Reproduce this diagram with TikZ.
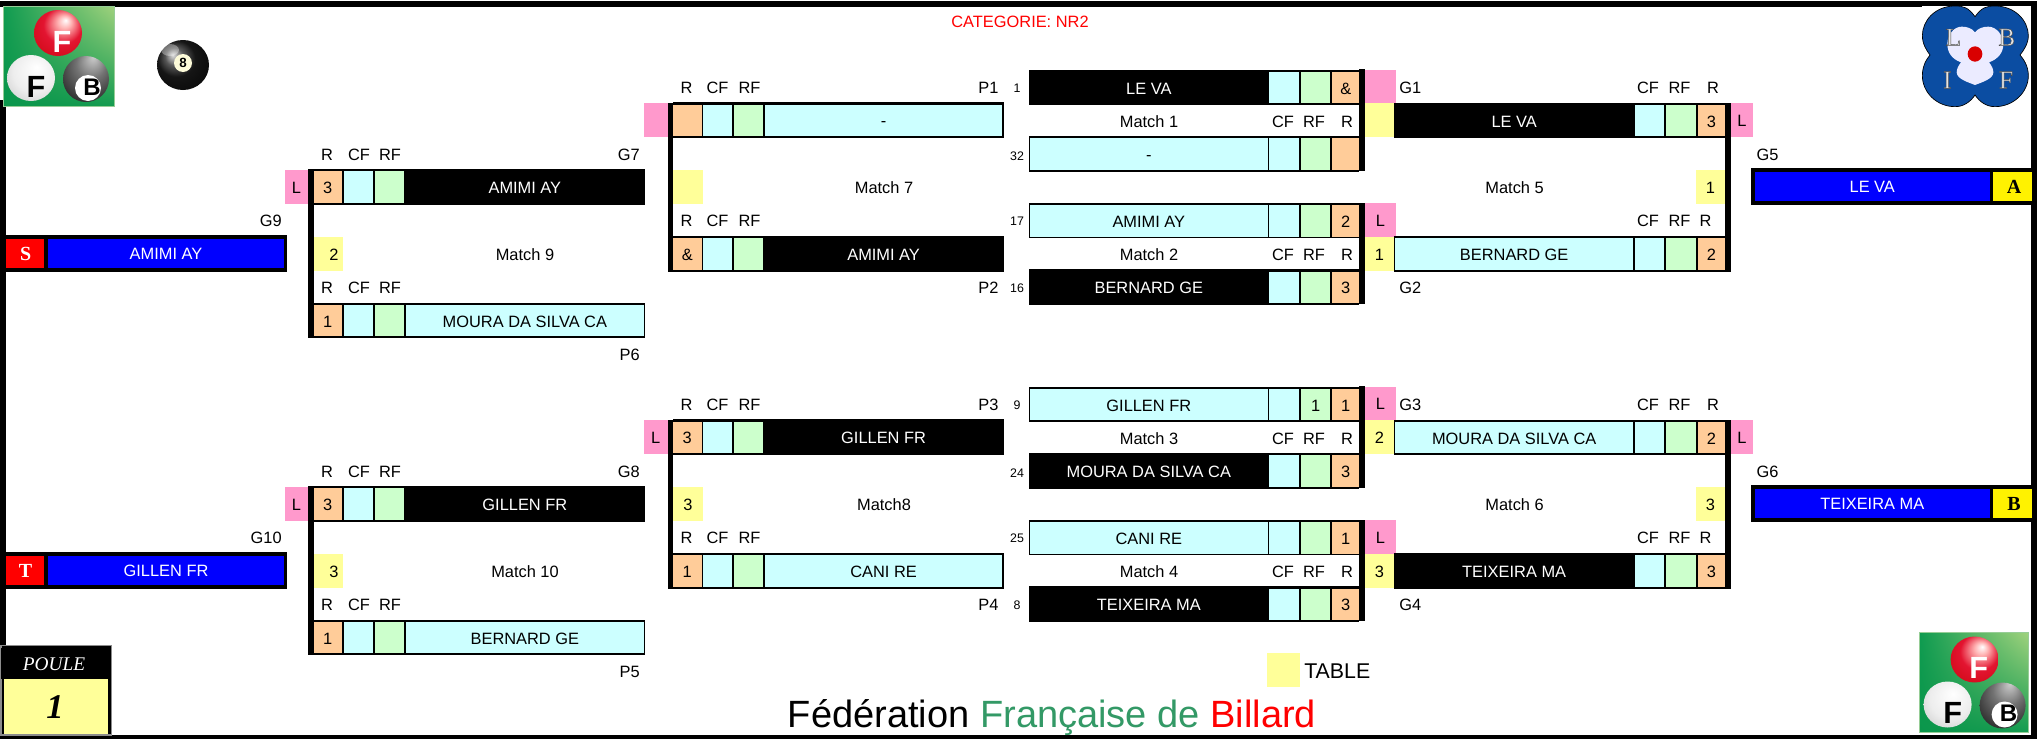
\documentclass[tikz,border=0pt]{standalone}
\usepackage{fontspec}
\usetikzlibrary{shadings}
\setmainfont{Liberation Sans}
\newfontfamily\serifF{Liberation Serif}
\definecolor{cpink}{HTML}{FF99CC}
\definecolor{corange}{HTML}{FFCC99}
\definecolor{ccyan}{HTML}{CCFFFF}
\definecolor{cgreen}{HTML}{CCFFCC}
\definecolor{cyell}{HTML}{FFFF99}
\definecolor{fgreen}{HTML}{339966}
\definecolor{lblue}{HTML}{0B4DA2}
\definecolor{lgA}{RGB}{10,150,75}
\definecolor{lgB}{RGB}{15,155,80}
\definecolor{lgC}{RGB}{20,155,80}
\definecolor{lgD}{RGB}{160,210,125}
\definecolor{lgE}{RGB}{150,205,150}
\pgfdeclareradialshading{redball}{\pgfpoint{8bp}{14bp}}{color(0bp)=(white);color(7bp)=(white!70!red);color(20bp)=(red!88!blue!92!white);color(50bp)=(red!75!black)}
\pgfdeclareradialshading{whiteball}{\pgfpoint{6bp}{12bp}}{color(0bp)=(white);color(22bp)=(black!7);color(40bp)=(black!22);color(50bp)=(black!40)}
\pgfdeclareradialshading{blackball}{\pgfpoint{8bp}{24bp}}{color(0bp)=(black!20);color(16bp)=(black!55);color(34bp)=(black!82);color(50bp)=(black!95)}
\tikzset{
  txt/.style={inner sep=0pt,yshift=-.4pt,text height=8.9pt,text depth=0pt,font=\fontsize{12.3}{14}\selectfont},
  seedt/.style={inner sep=0pt,yshift=-.4pt,text height=6.7pt,text depth=0pt,font=\fontsize{9.3}{11}\selectfont},
  tagt/.style={inner sep=0pt,text height=9pt,text depth=0pt,font=\serifF\bfseries\fontsize{15}{16}\selectfont},
  logot/.style={inner sep=0pt,text height=16.5pt,text depth=0pt,font=\bfseries\fontsize{23}{24}\selectfont},
  lbift/.style={inner sep=0pt,font=\serifF\fontsize{19}{20}\selectfont},
}
\newcommand\outl[1]{\special{pdf:code 2 Tr .35 w .3 G .9 g}#1\special{pdf:code 0 Tr 0 G 0 g}}
% id x1 y1 x2 y2 fill textcolor text
\newcommand\cell[8]{\path[fill=#6] (#2,#3) rectangle (#4,#5) node[midway,txt,text=#7] (#1) {#8};}
\newcommand\lab[5]{\node[txt,anchor=#4] (#1) at (#2,#3) {#5};}
\newcommand\seed[4]{\node[seedt] (#1) at (#2,#3) {#4};}
% left-type row: id top namefill namecolour score name
\newcommand\lrow[6]{%
  \fill[black] (\cA,#2-1) rectangle (\cH,#2+34.5);
  \cell{#1r}{\cA}{#2+1.3}{\cB}{#2+32.8}{corange}{black}{#5}
  \cell{#1c}{\cC}{#2+1.3}{\cD}{#2+32.8}{ccyan}{black}{}
  \cell{#1f}{\cE}{#2+1.3}{\cF}{#2+32.8}{cgreen}{black}{}
  \cell{#1n}{\cG}{#2+1.3}{\cH-1.3}{#2+32.8}{#3}{#4}{#6}
}
% right-type row: id top namefill namecolour rf score name
\newcommand\rrow[7]{%
  \fill[black] (\rA,#2-1) rectangle (\rH,#2+34.5);
  \cell{#1n}{\rA+1.3}{#2+1.3}{\rB}{#2+32.8}{#3}{#4}{#7}
  \cell{#1c}{\rC}{#2+1.3}{\rD}{#2+32.8}{ccyan}{black}{}
  \cell{#1f}{\rE}{#2+1.3}{\rF}{#2+32.8}{cgreen}{black}{#5}
  \cell{#1r}{\rG}{#2+1.3}{\rH}{#2+32.8}{corange}{black}{#6}
}
% left-type header R CF RF at given y
\newcommand\lhead[2]{\lab{#1a}{\hA}{#2}{center}{R}\lab{#1b}{\hB}{#2}{center}{CF}\lab{#1c}{\hC}{#2}{center}{RF}}
\newcommand\setleftA{\def\cA{313.5}\def\cB{342}\def\cC{344}\def\cD{373}\def\cE{375}\def\cF{404}\def\cG{406}\def\cH{645}\def\hA{327}\def\hB{359}\def\hC{390}}
\newcommand\setleftB{\def\cA{673}\def\cB{701.5}\def\cC{703.3}\def\cD{732}\def\cE{734}\def\cF{763}\def\cG{765}\def\cH{1003.5}\def\hA{686.5}\def\hB{717.5}\def\hC{749.5}}
\newcommand\setrightA{\def\rA{1028.8}\def\rB{1267.5}\def\rC{1269.3}\def\rD{1299.2}\def\rE{1301.2}\def\rF{1330.2}\def\rG{1332.2}\def\rH{1359.3}}
\newcommand\setrightB{\def\rA{1394}\def\rB{1633}\def\rC{1635}\def\rD{1664.4}\def\rE{1666}\def\rF{1696}\def\rG{1697.8}\def\rH{1725}}
% FFB logo at top-left corner
\newcommand\ffblogo[3]{%
\begin{scope}[shift={(#2,#3)}]
  \shade[lower left=lgA,upper left=lgB,lower right=lgC,upper right=lgD] (0,0) rectangle (#1,100);
  \draw[color=lgE,line width=.6pt] (0,0) rectangle (#1,100);
  \shade[shading=redball] (55,27) ellipse (24 and 23);
  \shade[shading=whiteball] (28,72) ellipse (24 and 23);
  \shade[shading=blackball] (83,73) ellipse (23 and 23);
  \fill[white] (85,82) circle (13);
  \node[logot,text=white] (#1fa) at (59,35) {F};
  \node[logot] (#1fb) at (33,80) {F};
  \node[logot,text height=12.5pt,font=\bfseries\fontsize{18}{20}\selectfont] (#1bb) at (89,81) {B};
\end{scope}}
\begin{document}
\begin{tikzpicture}[x=.75pt,y=-.75pt]
\useasboundingbox (0,0) rectangle (2037,739);
\fill[white] (0,0) rectangle (2037,739);
% frame
\fill[black] (0,1.3) rectangle (2037,7);
\fill[black] (0,100) rectangle (6.3,739);
\fill[black] (2031.4,1.3) rectangle (2037,739);
\fill[black] (0,735) rectangle (2037,739);
% logos
\ffblogo{111}{3}{6}
\ffblogo{108.5}{1919.6}{632.5}
% eight ball
\shade[ball color=black!88!white] (183,65) ellipse (26 and 25);
\fill[white,opacity=.35] (170,50) ellipse (9 and 6);
\fill[black!5!yellow!15!white] (183,63) circle (9);
\node[inner sep=0pt,font=\bfseries\fontsize{10}{11}\selectfont] (eight) at (183,63) {8};
% LBIF logo
\fill[white] (1922,6) rectangle (2031,107);
\begin{scope}[shift={(1975,54)},scale=.3333]
  \filldraw[fill=lblue,draw=black,line width=.5pt]
    (0,-112) .. controls (20,-140) and (35,-144) .. (60,-144)
    .. controls (120,-144) and (160,-100) .. (160,-55)
    .. controls (160,-30) and (145,-10) .. (135,3)
    .. controls (145,15) and (160,35) .. (160,65)
    .. controls (160,115) and (115,158) .. (60,158)
    .. controls (35,158) and (15,145) .. (0,123)
    .. controls (-15,145) and (-35,158) .. (-60,158)
    .. controls (-115,158) and (-158,115) .. (-158,65)
    .. controls (-158,35) and (-145,15) .. (-135,3)
    .. controls (-145,-10) and (-158,-30) .. (-158,-55)
    .. controls (-158,-100) and (-120,-144) .. (-60,-144)
    .. controls (-35,-144) and (-20,-140) .. (0,-112) -- cycle;
  \fill[white!92!blue]
    (0,-65) .. controls (-10,-78) and (-25,-82) .. (-40,-82)
    .. controls (-65,-82) and (-83,-55) .. (-83,-30)
    .. controls (-83,-5) and (-70,15) .. (-42,25)
    .. controls (-50,35) and (-55,45) .. (-55,55)
    .. controls (-55,75) and (-20,85) .. (0,93)
    .. controls (20,85) and (55,75) .. (55,55)
    .. controls (55,45) and (50,35) .. (42,25)
    .. controls (70,15) and (85,-5) .. (85,-30)
    .. controls (85,-55) and (65,-82) .. (40,-82)
    .. controls (25,-82) and (10,-78) .. (0,-65) -- cycle;
  \fill[red!85!black] (0,0) ellipse (22 and 23);
\end{scope}
\node[lbift] (lbl) at (1953.3,37.3) {\outl{L}};
\node[lbift] (lbb) at (2006.7,37.3) {\outl{B}};
\node[lbift] (lbi) at (1947.3,80) {\outl{I}};
\node[lbift] (lbf) at (2006,80) {\outl{F}};
% title
\node[txt,text=red] (cat) at (1020,21) {CATEGORIE: NR2};
% ---------- both halves
\setleftA
% upper half, column 2
\fill[black] (308,169) rectangle (313.5,338);
\cell{pkA}{285}{170}{308}{204}{cpink}{black}{L}
\lrow{gA}{170}{black}{white}{3}{AMIMI AY}
\lrow{pA}{303.5}{ccyan}{black}{1}{MOURA DA SILVA CA}
\lhead{hA}{154}\lhead{hAb}{287}
\lab{gAl}{640}{154}{east}{G7}\lab{pAl}{640}{354}{east}{P6}
\cell{yA}{313.5}{237}{342.6}{271}{cyell}{black}{}
\lab{yAt}{334}{254}{center}{2}
\lab{mA}{525}{254}{center}{Match 9}
% lower half, column 2
\begin{scope}[shift={(0,317)}]
\fill[black] (308,169) rectangle (313.5,338);
\cell{pkB}{285}{170}{308}{204}{cpink}{black}{L}
\lrow{gB}{170}{black}{white}{3}{GILLEN FR}
\lrow{pB}{303.5}{ccyan}{black}{1}{BERNARD GE}
\lhead{hB}{154}\lhead{hBb}{287}
\lab{gBl}{640}{154}{east}{G8}\lab{pBl}{640}{354}{east}{P5}
\cell{yB}{313.5}{237}{342.6}{271}{cyell}{black}{}
\lab{yBt}{334}{254}{center}{3}
\lab{mB}{525}{254}{center}{Match 10}
\end{scope}
\setleftB
% upper half, column 3
\fill[black] (667.6,103) rectangle (673,272);
\cell{pkC}{644}{103}{667.6}{137}{cpink}{black}{}
\lrow{pC}{103.2}{ccyan}{black}{}{-}
\lrow{gC}{237}{black}{white}{\&}{AMIMI AY}
\lhead{hC}{87}\lhead{hCb}{220}
\lab{pCl}{998.7}{87}{east}{P1}\lab{gCl}{998.7}{287}{east}{P2}
\cell{yC}{673}{170}{703}{203.5}{cyell}{black}{}
\lab{mC}{884}{187}{center}{Match 7}
% lower half, column 3
\begin{scope}[shift={(0,317)}]
\fill[black] (667.6,103) rectangle (673,272);
\cell{pkD}{644}{103}{667.6}{137}{cpink}{black}{L}
\lrow{gD}{103.2}{black}{white}{3}{GILLEN FR}
\lrow{pD}{237}{ccyan}{black}{1}{CANI RE}
\lhead{hD}{87}\lhead{hDb}{220}
\lab{gDl}{998.7}{87}{east}{P3}\lab{pDl}{998.7}{287}{east}{P4}
\cell{yD}{673}{170}{703}{203.5}{cyell}{black}{3}
\lab{mD}{884}{187}{center}{Match8}
\end{scope}
% column 4 + 5, upper
\setrightA
\fill[black] (1359.3,69) rectangle (1365,171);
\fill[black] (1359.3,203) rectangle (1365,304);
\rrow{a1}{70.5}{black}{white}{}{\&}{LE VA}
\rrow{a2}{137}{ccyan}{black}{}{}{-}
\rrow{a3}{203.8}{ccyan}{black}{}{2}{AMIMI AY}
\rrow{a4}{270.2}{black}{white}{}{3}{BERNARD GE}
\seed{s1}{1017}{87}{1}\seed{s32}{1017}{155}{32}\seed{s17}{1017}{220}{17}\seed{s16}{1017}{287}{16}
\lab{m1}{1149}{121}{center}{Match 1}\lab{m1c}{1283}{121}{center}{CF}\lab{m1f}{1314}{121}{center}{RF}\lab{m1r}{1347}{121}{center}{R}
\lab{m2}{1149}{254}{center}{Match 2}\lab{m2c}{1283}{254}{center}{CF}\lab{m2f}{1314}{254}{center}{RF}\lab{m2r}{1347}{254}{center}{R}
\cell{pka}{1365}{70}{1396}{103}{cpink}{black}{}
\cell{ya}{1365}{103}{1394}{137}{cyell}{black}{}
\cell{pkb}{1365}{203}{1396}{237}{cpink}{black}{L}
\cell{yb}{1365}{237}{1394}{271}{cyell}{black}{1}
\lab{g1}{1399}{87}{west}{G1}\lab{g2}{1399}{287}{west}{G2}
\setrightB
\fill[black] (1725,103) rectangle (1731,272);
\rrow{b1}{103.5}{black}{white}{}{3}{LE VA}
\rrow{b2}{237}{ccyan}{black}{}{2}{BERNARD GE}
\lab{b1c}{1648}{87}{center}{CF}\lab{b1f}{1679.5}{87}{center}{RF}\lab{b1h}{1713}{87}{center}{R}
\lab{b2c}{1648}{220}{center}{CF}\lab{b2f}{1679.5}{220}{center}{RF}\lab{b2h}{1705.5}{220}{center}{R}
\lab{m5}{1514.6}{187}{center}{Match 5}
\cell{y5}{1696}{170}{1725}{203.5}{cyell}{black}{1}
\cell{pk5}{1731}{103}{1753}{137}{cpink}{black}{L}
% column 4 + 5, lower
\begin{scope}[shift={(0,317)}]
\setrightA
\fill[black] (1359.3,69) rectangle (1365,171);
\fill[black] (1359.3,203) rectangle (1365,304);
\rrow{c1}{70.5}{ccyan}{black}{1}{1}{GILLEN FR}
\rrow{c2}{137}{black}{white}{}{3}{MOURA DA SILVA CA}
\rrow{c3}{203.8}{ccyan}{black}{}{1}{CANI RE}
\rrow{c4}{270.2}{black}{white}{}{3}{TEIXEIRA MA}
\seed{s9}{1017}{87}{9}\seed{s24}{1017}{155}{24}\seed{s25}{1017}{220}{25}\seed{s8}{1017}{287}{8}
\lab{m3}{1149}{121}{center}{Match 3}\lab{m3c}{1283}{121}{center}{CF}\lab{m3f}{1314}{121}{center}{RF}\lab{m3r}{1347}{121}{center}{R}
\lab{m4}{1149}{254}{center}{Match 4}\lab{m4c}{1283}{254}{center}{CF}\lab{m4f}{1314}{254}{center}{RF}\lab{m4r}{1347}{254}{center}{R}
\cell{pkc}{1365}{70}{1396}{103}{cpink}{black}{L}
\cell{yc}{1365}{103}{1394}{137}{cyell}{black}{2}
\cell{pkd}{1365}{203}{1396}{237}{cpink}{black}{L}
\cell{yd}{1365}{237}{1394}{271}{cyell}{black}{3}
\lab{g3}{1399}{87}{west}{G3}\lab{g4}{1399}{287}{west}{G4}
\setrightB
\fill[black] (1725,103) rectangle (1731,272);
\rrow{d1}{103.5}{ccyan}{black}{}{2}{MOURA DA SILVA CA}
\rrow{d2}{237}{black}{white}{}{3}{TEIXEIRA MA}
\lab{d1c}{1648}{87}{center}{CF}\lab{d1f}{1679.5}{87}{center}{RF}\lab{d1h}{1713}{87}{center}{R}
\lab{d2c}{1648}{220}{center}{CF}\lab{d2f}{1679.5}{220}{center}{RF}\lab{d2h}{1705.5}{220}{center}{R}
\lab{m6}{1514.6}{187}{center}{Match 6}
\cell{y6}{1696}{170}{1725}{203.5}{cyell}{black}{3}
\cell{pk6}{1731}{103}{1753}{137}{cpink}{black}{L}
\end{scope}
% final boxes, left
\fill[black] (6,235) rectangle (287,272);
\fill[red] (6,239) rectangle (43.5,268);
\node[tagt,text=white] (tagS) at (25.6,254) {S};
\cell{fS}{48}{239}{284}{268}{blue}{white}{AMIMI AY}
\lab{g9}{282}{220}{east}{G9}
\fill[black] (6,552) rectangle (287,589);
\fill[red] (6,556) rectangle (43.5,585);
\node[tagt,text=white] (tagT) at (25.6,571) {T};
\cell{fT}{48}{556}{284}{585}{blue}{white}{GILLEN FR}
\lab{g10}{282}{537}{east}{G10}
% final boxes, right
\fill[black] (1751,168) rectangle (2032,205);
\cell{fA}{1755}{172}{1989.5}{201}{blue}{white}{LE VA}
\fill[yellow] (1992.6,172) rectangle (2032,201);
\node[tagt] (tagA) at (2014,187) {A};
\lab{g5}{1756.4}{154}{west}{G5}
\fill[black] (1751,485) rectangle (2032,522);
\cell{fB}{1755}{489}{1989.5}{518}{blue}{white}{TEIXEIRA MA}
\fill[yellow] (1992.6,489) rectangle (2032,518);
\node[tagt] (tagB) at (2014,504) {B};
\lab{g6}{1756.4}{471}{west}{G6}
% legend and footer
\fill[cyell] (1267,653) rectangle (1300,687);
\node[inner sep=0pt,anchor=west,text height=11.2pt,text depth=0pt,font=\fontsize{16}{18}\selectfont] (tbl) at (1304,671.5) {TABLE};
\node[inner sep=0pt,anchor=base,font=\fontsize{28.5}{30}\selectfont] (foot) at (1052,727) {Fédération \textcolor{fgreen}{Française de} \textcolor{red}{Billard}};
% poule
\filldraw[fill=black,draw=black!45,line width=.8pt] (1,645.5) rectangle (111.5,735);
\fill[black] (1,648) rectangle (109,679);
\fill[cyell] (4,679) rectangle (108,734);
\node[inner sep=0pt,text=white,font=\serifF\itshape\fontsize{14.5}{16}\selectfont] (poule) at (54,664) {POULE};
\node[inner sep=0pt,font=\serifF\bfseries\itshape\fontsize{26}{28}\selectfont] (poulen) at (55,707) {1};
\end{tikzpicture}
\end{document}
